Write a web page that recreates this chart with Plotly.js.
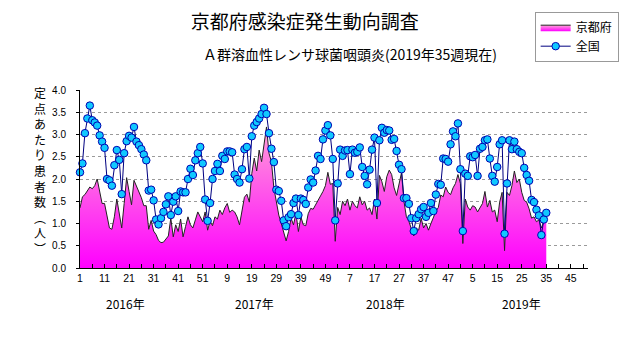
<!DOCTYPE html>
<html>
<head>
<meta charset="utf-8">
<script src="https://cdn.plot.ly/plotly-3.0.1.min.js"></script>
<style>
html,body{margin:0;padding:0;background:#fff;}
#chart{width:631px;height:347px;}
</style>
</head>
<body>
<div id="chart"></div>
<script>
// ---- data (per week; 2016 wk1 .. 2019 wk35) ----
const kyoto2016 = [1.35,1.6,1.65,1.75,1.82,1.78,1.85,2.0,1.75,1.45,1.45,1.2,0.9,0.87,1.15,1.55,1.2,0.9,1.45,2.03,1.72,1.42,1.97,1.85,1.72,1.58,1.4,1.4,0.87,1.07,0.83,0.75,0.62,0.57,0.58,0.66,0.72,1.12,0.7,0.97,0.82,1.1,0.7,0.93,1.15,0.97,0.9,1.08,1.26,1.15,1.04,1.26];
const kyoto2017 = [0.85,1.05,0.95,1.15,1.1,1.3,1.2,1.35,1.45,1.25,1.3,1.26,1.15,0.97,1.26,1.59,1.66,1.48,2.12,2.47,2.18,2.65,2.39,2.8,3.17,2.58,2.39,1.8,1.48,1.19,1.0,0.82,0.61,0.82,1.12,0.97,1.23,0.82,1.15,0.97,0.95,1.22,1.34,1.32,1.41,1.52,1.62,1.72,1.85,2.15,1.88,1.9];
const kyoto2018 = [0.6,1.36,1.2,1.5,1.4,1.55,1.3,1.5,1.4,1.35,1.6,1.42,1.5,1.3,1.35,1.2,1.55,1.1,2.08,1.94,1.72,2.05,2.2,2.1,1.8,1.63,1.92,2.14,1.5,1.15,1.05,0.9,0.72,0.9,0.85,1.12,0.9,1.0,0.85,1.0,1.15,1.27,1.36,1.64,1.6,1.82,1.7,1.65,1.8,1.9,2.1,1.9];
const kyoto2019 = [0.55,1.55,1.37,1.3,1.4,1.37,1.26,1.37,1.45,1.72,1.37,1.52,1.26,1.3,1.04,1.48,1.7,0.39,1.7,1.63,1.85,2.18,1.92,2.0,1.7,1.52,1.48,1.33,1.12,1.15,1.04,1.08,0.9,1.04,1.15];

const japan2016 = [2.15,2.35,3.03,3.36,3.65,3.32,3.27,3.2,2.98,2.84,2.7,2.0,1.97,1.85,2.31,2.65,2.43,1.66,2.58,2.85,2.97,2.93,3.17,2.84,2.76,2.67,2.55,2.42,1.74,1.76,1.52,1.09,0.98,1.12,1.26,1.43,1.61,1.19,1.49,1.61,1.28,1.72,1.7,1.7,2.0,2.23,2.09,2.42,2.58,2.72,2.35,1.54];
const japan2017 = [1.06,1.46,2.0,2.18,2.34,2.18,2.52,2.45,2.62,2.62,2.6,2.1,2.0,1.92,2.22,2.67,2.72,2.01,2.96,3.2,3.28,3.36,3.46,3.6,3.46,3.03,2.68,2.38,1.76,1.73,1.51,1.07,0.94,1.14,1.21,1.46,1.56,1.19,1.56,1.53,1.44,1.81,1.99,1.92,2.19,2.52,2.45,2.89,3.09,3.21,2.98,2.45];
const japan2018 = [1.07,1.9,2.66,2.52,2.64,2.65,2.11,2.66,2.59,2.61,2.71,2.27,2.07,1.88,2.21,2.66,2.93,1.46,2.87,3.15,3.04,3.1,3.09,2.88,2.9,2.63,2.32,2.22,1.57,1.57,1.44,1.12,0.83,1.12,1.21,1.32,1.37,1.15,1.24,1.46,1.28,1.65,1.89,1.87,2.46,2.45,2.39,2.78,3.07,2.96,3.25,2.22];
const japan2019 = [0.83,2.12,2.07,2.51,2.49,2.54,2.07,2.68,2.72,2.87,2.89,2.46,2.07,1.94,2.27,2.78,2.87,0.77,1.9,2.87,2.67,2.84,2.67,2.61,2.58,2.25,2.09,1.96,1.53,1.48,1.31,1.18,0.74,1.09,1.24];

const weekTickLabels = ['1','11','21','31','41','51','9','19','29','39','49','7','17','27','37','47','5','15','25','35','45'];
const yearLabels = ['2016年','2017年','2018年','2019年'];
const seriesNames = ['京都府','全国'];

// ---- build ----
const kyoto = [].concat(kyoto2016, kyoto2017, kyoto2018, kyoto2019);
const japan = [].concat(japan2016, japan2017, japan2018, japan2019);
const idx = kyoto.map((_, i) => i + 1);
const tickPos = weekTickLabels.map((_, k) => 1 + 10 * k);
const yearPos = [19.5, 72, 125.5, 180.7];

const traces = [
  {
    x: idx, y: kyoto, name: seriesNames[0], type: 'scatter', mode: 'lines',
    line: {color: '#222222', width: 1},
    fill: 'tozeroy',
    fillgradient: {type: 'vertical', start: 0, stop: 3.3,
      colorscale: [[0, '#ff00ff'], [1, '#ffa6d6']]},
    hoverinfo: 'skip'
  },
  {
    x: idx, y: japan, name: seriesNames[1], type: 'scatter', mode: 'lines+markers',
    line: {color: '#000080', width: 1},
    marker: {size: 7.5, color: '#10c8ff', line: {color: '#0000b0', width: 1}},
    cliponaxis: false,
    hoverinfo: 'skip'
  }
];

const ann = [];
yearLabels.forEach((t, k) => ann.push({
  text: t, x: yearPos[k], xref: 'x', xanchor: 'center', y: -0.2, yref: 'paper', yanchor: 'middle',
  showarrow: false, font: {size: 12, color: '#000'}
}));
ann.push({
  text: 'Ａ群溶血性レンサ球菌咽頭炎(2019年35週現在)', x: 0.532, xref: 'paper', xanchor: 'center',
  y: 1.2, yref: 'paper', yanchor: 'middle', showarrow: false,
  font: {size: 14, color: '#000'}
});
ann.push({
  text: '定<br>点<br>あ<br>た<br>り<br>患<br>者<br>数<br>︵<br>人<br>︶', x: -0.078, xref: 'paper', xanchor: 'center',
  y: 0.55, yref: 'paper', yanchor: 'middle', showarrow: false,
  font: {size: 12, color: '#000'}
});

const layout = {
  width: 631, height: 347,
  margin: {l: 80, r: 36, t: 86, b: 79},
  paper_bgcolor: '#fff', plot_bgcolor: '#fff',
  font: {family: '"Noto Sans CJK JP", "Liberation Sans", sans-serif', color: '#000'},
  title: {text: '京都府感染症発生動向調査', x: 0.483, xanchor: 'center', y: 0.937, yanchor: 'middle',
    font: {size: 19, color: '#000'}},
  showlegend: true,
  legend: {x: 0.895, xanchor: 'left', y: 1.44, yanchor: 'top', bordercolor: '#999', borderwidth: 1,
    font: {size: 12}, itemwidth: 30, tracegroupgap: 0, bgcolor: '#fff'},
  xaxis: {
    range: [1, 208], tickmode: 'array', tickvals: tickPos, ticktext: weekTickLabels,
    showline: true, linecolor: '#000', linewidth: 1, showgrid: false, zeroline: false,
    ticks: 'inside', ticklen: 4, tickcolor: '#000',
    minor: {tickmode: 'linear', tick0: 1, dtick: 5, ticks: 'inside', ticklen: 4, tickcolor: '#000', showgrid: false},
    tickfont: {family: 'Liberation Sans', size: 10.5}
  },
  yaxis: {
    range: [0, 4], dtick: 0.5, tick0: 0, tickformat: '.1f',
    showline: true, linecolor: '#000', linewidth: 1, zeroline: false,
    showgrid: true, gridcolor: '#9a9a9a', griddash: 'dot', gridwidth: 1,
    ticks: 'outside', ticklen: 3, tickcolor: '#000', ticklabelstandoff: 8,
    tickfont: {family: 'Liberation Sans', size: 10}
  },
  annotations: ann
};

Plotly.newPlot('chart', traces, layout, {staticPlot: true});
</script>
</body>
</html>
